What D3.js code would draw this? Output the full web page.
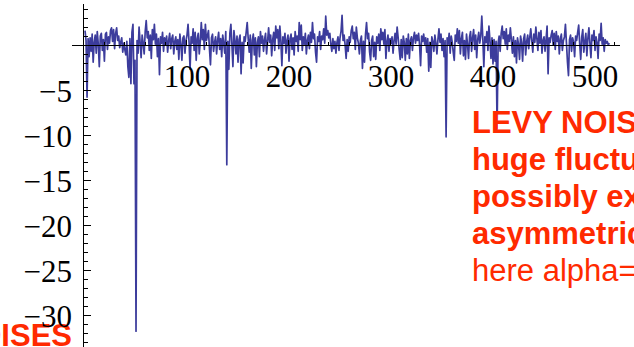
<!DOCTYPE html>
<html><head><meta charset="utf-8">
<script src="https://cdn.jsdelivr.net/npm/d3@7"></script>
<style>html,body{margin:0;padding:0;background:#fff;overflow:hidden}</style>
</head><body>
<svg id="c" width="634" height="347"></svg>
<script>
const levy = [
 1.7,0.6,-5.7,0.8,-1.2,0.9,-0.6,1.3,-1.8,0.4,1.2,-0.8,1.6,0.2,-2.3,1.1,1.4,-0.5,0.7,-1.7,
 1.3,1.5,-0.4,1.0,0.3,1.7,2.0,0.5,1.8,-0.3,1.4,2.0,0.6,1.1,-0.2,0.4,0.9,-0.7,0.3,-0.4,
 -1.0,0.5,-2.3,-3.5,0.8,-4.2,1.5,2.4,-4.2,-1.6,-31.7,0.6,-0.8,2.1,0.4,-1.3,1.2,0.3,-0.9,1.6,
 2.8,0.9,1.6,-0.5,1.2,-1.4,1.8,0.7,2.4,0.2,1.3,-1.2,0.8,-3.2,1.0,0.3,1.5,-0.6,0.9,0.2,
 1.1,-0.7,0.6,1.4,-0.3,0.8,1.2,-0.9,0.5,1.0,-0.4,0.7,-1.5,1.3,0.2,-1.6,0.9,1.1,-0.8,0.6,
 1.2,2.4,0.4,-2.6,1.0,0.3,1.9,-0.5,1.5,-1.6,0.8,1.4,-0.9,0.5,2.6,0.7,1.8,-0.4,2.4,0.6,
 1.1,1.7,-0.3,-2.1,0.9,1.3,-0.6,0.4,1.0,-0.9,0.6,1.5,-0.4,0.8,-1.2,1.2,0.3,-0.8,1.6,-13.2,
 0.5,-2.6,1.4,2.4,0.2,-2.3,1.7,0.6,-0.9,1.1,-1.8,0.7,1.2,-3.1,0.4,-1.9,1.0,0.5,1.5,2.6,
 0.8,-0.7,1.2,-2.5,0.6,1.3,-1.0,0.9,-2.3,0.4,1.0,-1.2,1.6,0.3,1.1,-0.6,0.7,1.4,-0.9,0.5,
 2.0,0.4,1.2,-1.1,0.7,1.5,-0.5,2.2,0.9,1.8,-0.3,2.2,0.6,-2.2,1.0,0.3,1.4,-0.8,0.6,1.2,
 -1.7,0.8,1.3,-0.4,0.9,-1.0,1.6,0.5,1.1,-0.6,2.6,0.7,2.3,-0.5,1.0,0.2,1.4,-0.9,0.6,1.2,
 -0.3,1.5,0.4,2.6,0.8,1.3,-0.7,-1.8,1.0,0.5,1.6,-0.4,1.1,0.7,1.9,0.3,3.3,1.2,1.7,0.9,
 1.4,0.2,-0.6,0.8,-0.3,0.5,-0.8,0.4,1.0,-0.5,0.9,1.6,3.4,0.6,1.2,0.1,-1.4,0.7,-0.6,1.0,
 0.4,1.7,2.2,0.8,1.5,-0.4,2.1,0.9,0.3,-0.9,0.6,1.1,-2.5,0.5,-1.8,1.3,2.6,0.8,1.4,-0.7,
 -1.6,0.6,1.1,-1.2,0.4,-1.5,1.0,0.3,1.3,-0.5,1.9,0.7,1.5,0.2,1.8,-1.4,0.5,1.2,-0.6,0.8,
 0.3,1.0,-0.8,0.6,1.4,0.2,2.1,0.9,-0.4,-1.5,0.7,-1.3,1.1,0.4,-1.6,0.8,-0.9,1.3,-1.4,0.6,
 1.0,-0.5,0.9,1.5,0.3,1.2,0.6,1.4,0.1,-2.2,1.1,0.5,1.3,0.2,0.9,-0.7,0.8,-2.8,0.4,-2.4,
 1.0,0.5,-0.6,1.2,0.3,-0.9,0.7,1.9,0.4,1.3,-0.5,0.8,-1.2,0.6,-10.1,0.9,0.2,1.4,-0.8,1.1,
 0.4,-0.7,-1.6,1.2,0.5,1.9,0.3,1.7,-0.9,0.8,1.5,-1.1,0.6,-1.5,1.3,0.2,-1.4,1.0,1.6,-0.6,
 0.9,1.8,-0.4,1.2,-1.3,0.7,1.5,0.3,1.1,3.3,0.8,-2.3,1.0,0.4,1.6,-0.5,2.2,0.6,-1.4,0.9,
 -2.0,0.7,-1.7,0.5,-9.2,0.3,1.1,-0.6,1.4,2.2,0.8,1.6,0.2,1.9,-0.4,1.2,0.5,2.0,0.7,-0.8,
 1.0,-1.2,0.6,-1.9,0.9,0.2,-1.5,1.1,0.4,-1.7,0.8,1.3,-1.0,0.5,1.2,-0.3,0.9,1.9,0.6,-0.7,
 1.3,0.4,2.1,0.8,-0.5,1.5,0.3,1.7,-0.8,0.6,1.0,-0.6,0.7,2.2,-3.1,0.9,0.4,1.2,1.7,0.1,
 1.4,-0.4,1.6,0.5,1.1,-0.9,0.8,1.3,-0.5,0.6,1.0,2.4,0.3,-1.8,-3.3,0.7,1.2,-0.6,0.9,0.4,
 -1.2,1.1,0.6,1.5,2.3,0.2,-1.5,1.0,1.8,-0.7,0.5,1.4,-1.1,0.8,2.0,0.3,-1.3,1.2,0.6,1.7,
 -0.5,1.0,0.4,-1.4,1.3,0.6,2.5,0.2,0.9,-0.6,0.7,0.3,0.5,0.1,0.3
];
const xMajorTicks = [100, 200, 300, 400, 500];
const yMajorTicks = [-5, -10, -15, -20, -25, -30];
const yTickLabels = ["\u22125", "\u221210", "\u221215", "\u221220", "\u221225", "\u221230"];
const noteLines = ["LEVY NOISES:", "huge fluctuations,", "possibly extreme,", "asymmetric", "here alpha=1.5"];
const noteBold = [true, true, true, true, false];
const leftNote = "NOISES";

const svg = d3.select("#c");
const x = d3.scaleLinear().domain([0, 522]).range([84, 84 + 522 * 1.02]);
const y = d3.scaleLinear().domain([-33.4, 4.6]).range([346.5, 4.5]);

const red = "#ff2a00";
svg.append("text").attr("x", 72).attr("y", 346)
  .attr("text-anchor", "end").attr("font-family", "Liberation Sans, Arial, sans-serif")
  .attr("font-weight", "bold").attr("font-size", 31).attr("fill", red).text(leftNote);

const line = d3.line().x((d, i) => x(i + 1)).y(d => y(d));
svg.append("path").datum(levy).attr("d", line)
  .attr("fill", "none").attr("stroke", "#3c3c9c").attr("stroke-width", 1.7)
  .attr("stroke-linejoin", "round");

const ax = svg.append("g").attr("stroke", "#000").attr("stroke-width", 1).attr("shape-rendering", "crispEdges");
ax.append("line").attr("x1", 72).attr("x2", 620).attr("y1", y(0)).attr("y2", y(0));
ax.append("line").attr("x1", 83.5).attr("x2", 83.5).attr("y1", 4).attr("y2", 347);

d3.range(20, 521, 20).forEach(v => {
  const major = v % 100 === 0;
  ax.append("line").attr("x1", x(v)).attr("x2", x(v))
    .attr("y1", y(0)).attr("y2", y(0) - (major ? 6 : 3.5));
});
d3.range(-33, 5, 1).forEach(v => {
  if (v === 0) return;
  const major = v % 5 === 0;
  ax.append("line").attr("x1", 83.5).attr("x2", 83.5 + (major ? 7 : 4))
    .attr("y1", y(v)).attr("y2", y(v));
});

const lab = svg.append("g").attr("font-family", "Liberation Serif, Times New Roman, serif")
  .attr("font-size", 31).attr("fill", "#000");
xMajorTicks.forEach(v => {
  lab.append("text").attr("x", x(v) + 1).attr("y", 87).attr("text-anchor", "middle").text(v);
});
yMajorTicks.forEach((v, i) => {
  lab.append("text").attr("x", 72).attr("y", y(v) + 11).attr("text-anchor", "end").text(yTickLabels[i]);
});

noteLines.forEach((t, i) => {
  svg.append("text").attr("x", 472).attr("y", 133 + i * 37)
    .attr("font-family", "Liberation Sans, Arial, sans-serif")
    .attr("font-weight", noteBold[i] ? "bold" : "normal")
    .attr("font-size", 31).attr("fill", red).text(t);
});
</script>
</body></html>
